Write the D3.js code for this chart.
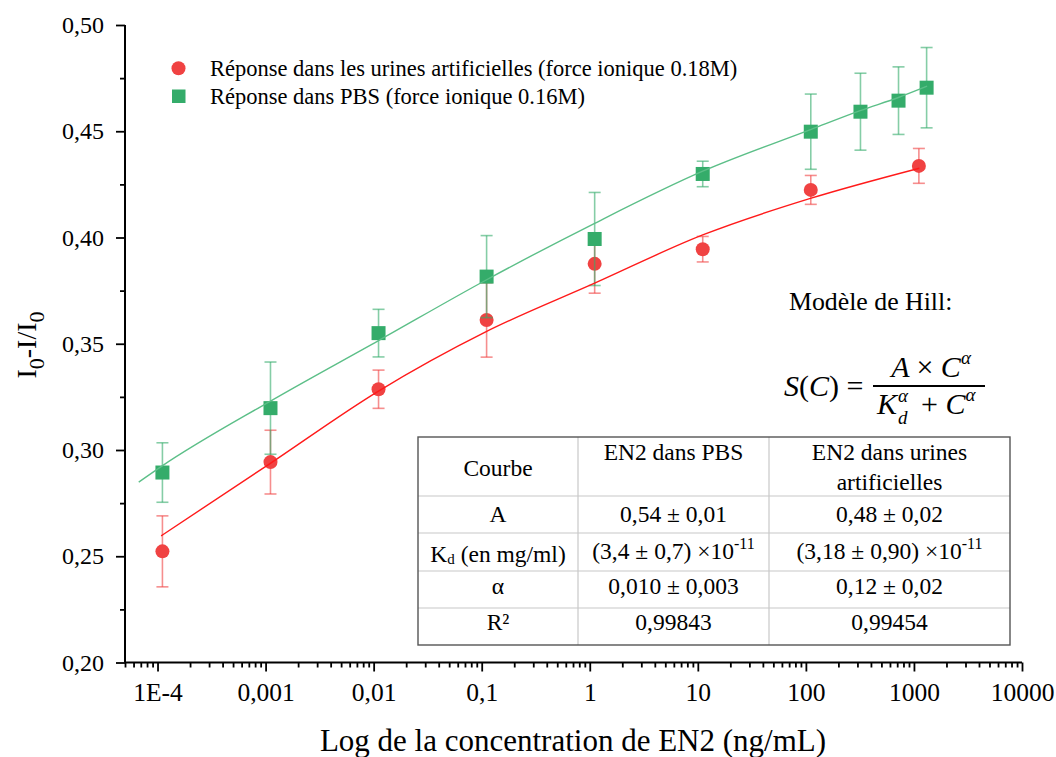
<!DOCTYPE html>
<html><head><meta charset="utf-8">
<script src="https://cdn.jsdelivr.net/npm/d3@7"></script>
<style>
body{margin:0;background:#fff}
svg{display:block}
text{font-family:"Liberation Serif","Times New Roman",serif;fill:#000}
</style>
</head><body>
<svg id="chart" width="1056" height="757"></svg>
<script>
// ---------- data ----------
const concPBS  = [1.11e-4, 1.11e-3, 1.11e-2, 0.111, 1.11, 11.1, 111, 320, 720, 1310];
const respPBS  = [0.2894, 0.3197, 0.3550, 0.3816, 0.3993, 0.4299, 0.4498, 0.4592, 0.4644, 0.4705];
const errPBS   = [0.0140, 0.0217, 0.0112, 0.0193, 0.0219, 0.0060, 0.0177, 0.0181, 0.0159, 0.0189];

const concUrine = [1.11e-4, 1.11e-3, 1.11e-2, 0.111, 1.11, 11.1, 111, 1111];
const respUrine = [0.2523, 0.2943, 0.3286, 0.3612, 0.3876, 0.3945, 0.4224, 0.4337];
const errUrine  = [0.0167, 0.0150, 0.0090, 0.0175, 0.0138, 0.0060, 0.0068, 0.0082];

// fitted Hill curves
const fitPBSConc = [6.7e-5, 1.08e-4, 1.09e-3, 1.11e-2, 0.110, 1.11, 11.1, 112, 318, 728, 1324];
const fitPBSResp = [0.2849, 0.2922, 0.3228, 0.3515, 0.3800, 0.4067, 0.4312, 0.4509, 0.4597, 0.4660, 0.4712];
const fitUrineConc = [1.08e-4, 1.09e-3, 1.09e-2, 0.110, 1.11, 11.1, 112, 1122];
const fitUrineResp = [0.2596, 0.2935, 0.3275, 0.3557, 0.3785, 0.4012, 0.4185, 0.4326];

const xTickValues = [1e-4, 1e-3, 1e-2, 1e-1, 1, 10, 100, 1000, 10000];
const xTickLabels = ["1E-4", "0,001", "0,01", "0,1", "1", "10", "100", "1000", "10000"];
const yTickValues = [0.20, 0.25, 0.30, 0.35, 0.40, 0.45, 0.50];
const yTickLabels = ["0,20", "0,25", "0,30", "0,35", "0,40", "0,45", "0,50"];
const yMinorValues = [0.225, 0.275, 0.325, 0.375, 0.425, 0.475];

const legendLabels = ["Réponse dans les urines artificielles (force ionique 0.18M)",
                      "Réponse dans PBS (force ionique 0.16M)"];
const tableHeader = ["Courbe", "EN2 dans PBS", "EN2 dans urines|artificielles"];
const tableRowsA = ["A", "0,54 ± 0,01", "0,48 ± 0,02"];
const tableRowsAlpha = ["α", "0,010 ± 0,003", "0,12 ± 0,02"];
const tableRowsR2 = ["R²", "0,99843", "0,99454"];
const tableKd = ["(3,4 ± 0,7) ×10", "(3,18 ± 0,90) ×10", "-11"];

const RED = "#f04242", RED_LINE = "#ff1a1a";
const GREEN = "#34ac6a", GREEN_LINE = "#5cbf88";

// ---------- scales ----------
const svg = d3.select("#chart");
svg.append("rect").attr("width", 1056).attr("height", 757).attr("fill", "#fff");
const x = d3.scaleLog().domain([5e-5, 1e4]).range([125, 1022]);
const y = d3.scaleLinear().domain([0.2, 0.5]).range([662.5, 25]);

// minor x ticks
const xMinor = [];
for (let e = -5; e <= 3; e++) for (let m = 2; m <= 9; m++) {
  const v = m * Math.pow(10, e);
  if (v >= 5e-5 && v <= 1e4) xMinor.push(v);
}

// ---------- axes ----------
const gx = svg.append("g").attr("transform", `translate(0,${y(0.2)})`);
gx.call(d3.axisBottom(x).tickValues(xMinor).tickSize(5).tickSizeOuter(0).tickFormat(""));
gx.call(g => g.select(".domain").remove());
const gx2 = svg.append("g").attr("transform", `translate(0,${y(0.2)})`);
gx2.call(d3.axisBottom(x).tickValues(xTickValues).tickSize(9).tickSizeOuter(0)
  .tickPadding(11).tickFormat((d, i) => xTickLabels[i]));
gx2.select(".domain").attr("stroke-width", 2).attr("d", `M${x(5e-5)},0H${x(1e4)}`);
gx2.selectAll("text").attr("font-size", 25.5).attr("font-family", "Liberation Serif");

const gy = svg.append("g").attr("transform", `translate(${x(5e-5)},0)`);
gy.call(d3.axisLeft(y).tickValues(yMinorValues).tickSize(5).tickFormat(""));
gy.call(g => g.select(".domain").remove());
const gy2 = svg.append("g").attr("transform", `translate(${x(5e-5)},0)`);
gy2.call(d3.axisLeft(y).tickValues(yTickValues).tickSize(9).tickSizeOuter(0)
  .tickPadding(12).tickFormat((d, i) => yTickLabels[i]));
gy2.select(".domain").attr("stroke-width", 2).attr("d", `M0,${y(0.5)}V${y(0.2)}`);
gy2.selectAll("text").attr("font-size", 24).attr("font-family", "Liberation Serif");
svg.selectAll(".tick line").attr("stroke", "#000").attr("stroke-width", 1.8);

// axis titles
svg.append("text").attr("x", 573).attr("y", 751).attr("text-anchor", "middle")
  .attr("font-size", 31).text("Log de la concentration de EN2 (ng/mL)");
const yt = svg.append("text").attr("transform", "translate(36,345) rotate(-90)")
  .attr("text-anchor", "middle").attr("font-size", 28);
yt.append("tspan").text("I");
yt.append("tspan").attr("font-size", 22).attr("dy", 8).text("0");
yt.append("tspan").attr("dy", -8).text("-I/I");
yt.append("tspan").attr("font-size", 22).attr("dy", 8).text("0");

// ---------- series ----------
function drawSeries(conc, resp, err, color, shape) {
  const g = svg.append("g");
  const d = conc.map((c, i) => ({c, v: resp[i], e: err[i]}));
  const eb = g.append("g").attr("stroke", color).attr("stroke-opacity", 0.6).attr("stroke-width", 1.6);
  eb.selectAll("line.v").data(d).join("line")
    .attr("x1", p => x(p.c)).attr("x2", p => x(p.c))
    .attr("y1", p => y(p.v + p.e)).attr("y2", p => y(p.v - p.e));
  eb.selectAll("line.t").data(d).join("line")
    .attr("x1", p => x(p.c) - 6).attr("x2", p => x(p.c) + 6)
    .attr("y1", p => y(p.v + p.e)).attr("y2", p => y(p.v + p.e));
  eb.selectAll("line.b").data(d).join("line")
    .attr("x1", p => x(p.c) - 6).attr("x2", p => x(p.c) + 6)
    .attr("y1", p => y(p.v - p.e)).attr("y2", p => y(p.v - p.e));
  if (shape === "circle") {
    g.selectAll("circle").data(d).join("circle")
      .attr("cx", p => x(p.c)).attr("cy", p => y(p.v)).attr("r", 7).attr("fill", color);
  } else {
    g.selectAll("rect").data(d).join("rect")
      .attr("x", p => x(p.c) - 7).attr("y", p => y(p.v) - 7)
      .attr("width", 14).attr("height", 14).attr("fill", color);
  }
}
drawSeries(concUrine, respUrine, errUrine, RED, "circle");
drawSeries(concPBS, respPBS, errPBS, GREEN, "square");

const line = d3.line().x(d => x(d[0])).y(d => y(d[1])).curve(d3.curveMonotoneX);
svg.append("path").attr("d", line(fitUrineConc.map((c, i) => [c, fitUrineResp[i]])))
  .attr("fill", "none").attr("stroke", RED_LINE).attr("stroke-width", 1.4);
svg.append("path").attr("d", line(fitPBSConc.map((c, i) => [c, fitPBSResp[i]])))
  .attr("fill", "none").attr("stroke", GREEN_LINE).attr("stroke-width", 1.4);

// ---------- legend ----------
svg.append("circle").attr("cx", 178.5).attr("cy", 68.3).attr("r", 7).attr("fill", RED);
svg.append("rect").attr("x", 172).attr("y", 89.5).attr("width", 13.5).attr("height", 13.5).attr("fill", GREEN);
svg.append("text").attr("x", 210).attr("y", 75.5).attr("font-size", 22.5).text(legendLabels[0]);
svg.append("text").attr("x", 210).attr("y", 104).attr("font-size", 22.5).text(legendLabels[1]);

// ---------- Hill model ----------
svg.append("text").attr("x", 789).attr("y", 310).attr("font-size", 25.8).text("Modèle de Hill:");
const f = svg.append("g").attr("font-style", "italic");
const s = f.append("text").attr("x", 784).attr("y", 396).attr("font-size", 30);
s.append("tspan").text("S");
s.append("tspan").attr("font-style", "normal").text("(");
s.append("tspan").text("C");
s.append("tspan").attr("font-style", "normal").text(") =");
svg.append("line").attr("x1", 873).attr("x2", 985).attr("y1", 386).attr("y2", 386)
  .attr("stroke", "#000").attr("stroke-width", 1.8);
const num = f.append("text").attr("x", 931).attr("y", 377).attr("font-size", 30).attr("text-anchor", "middle");
num.append("tspan").text("A ");
num.append("tspan").attr("font-style", "normal").text("× ");
num.append("tspan").text("C");
num.append("tspan").attr("font-size", 19).attr("dy", -13).text("α");
f.append("text").attr("x", 877).attr("y", 414).attr("font-size", 30).text("K");
f.append("text").attr("x", 898).attr("y", 402).attr("font-size", 19).text("α");
f.append("text").attr("x", 898).attr("y", 424).attr("font-size", 19).text("d");
const den = f.append("text").attr("x", 921).attr("y", 414).attr("font-size", 30);
den.append("tspan").attr("font-style", "normal").text("+ ");
den.append("tspan").text("C");
den.append("tspan").attr("font-size", 19).attr("dy", -13).text("α");

// ---------- table ----------
const colX = [418, 578, 769, 1010];
const rowY = [437, 496, 533, 571, 608, 645];
const tg = svg.append("g");
tg.selectAll("line.c").data(colX.slice(1, 3)).join("line")
  .attr("x1", d => d).attr("x2", d => d).attr("y1", rowY[0]).attr("y2", rowY[5])
  .attr("stroke", "#c8c8c8").attr("stroke-width", 1.2);
tg.selectAll("line.r").data(rowY.slice(1, 5)).join("line")
  .attr("x1", colX[0]).attr("x2", colX[3]).attr("y1", d => d).attr("y2", d => d)
  .attr("stroke", "#c8c8c8").attr("stroke-width", 1.2);
tg.append("rect").attr("x", colX[0]).attr("y", rowY[0]).attr("width", colX[3] - colX[0])
  .attr("height", rowY[5] - rowY[0]).attr("fill", "none").attr("stroke", "#555").attr("stroke-width", 1.4);
const cx = [(colX[0] + colX[1]) / 2, (colX[1] + colX[2]) / 2, (colX[2] + colX[3]) / 2];
const tfs = 23.5;
function cell(col, yy, txt) {
  return tg.append("text").attr("x", cx[col]).attr("y", yy).attr("text-anchor", "middle")
    .attr("font-size", tfs).text(txt);
}
cell(0, 476, tableHeader[0]);
cell(1, 460, tableHeader[1]);
cell(2, 460, tableHeader[2].split("|")[0]);
cell(2, 490, tableHeader[2].split("|")[1]);
tableRowsA.forEach((t, i) => cell(i, 522, t));
tableRowsAlpha.forEach((t, i) => cell(i, 594, t));
tableRowsR2.forEach((t, i) => cell(i, 630, t));
// Kd row
const k0 = tg.append("text").attr("x", cx[0]).attr("y", 562).attr("text-anchor", "middle").attr("font-size", tfs);
k0.append("tspan").text("K");
k0.append("tspan").attr("font-size", 15).attr("dy", 2).text("d");
k0.append("tspan").attr("dy", -2).text("  (en mg/ml)");
[1, 2].forEach(i => {
  const t = tg.append("text").attr("x", cx[i]).attr("y", 559).attr("text-anchor", "middle").attr("font-size", tfs);
  t.append("tspan").text(tableKd[i - 1]);
  t.append("tspan").attr("font-size", 16).attr("dy", -10).text(tableKd[2]);
});
</script>
</body></html>
